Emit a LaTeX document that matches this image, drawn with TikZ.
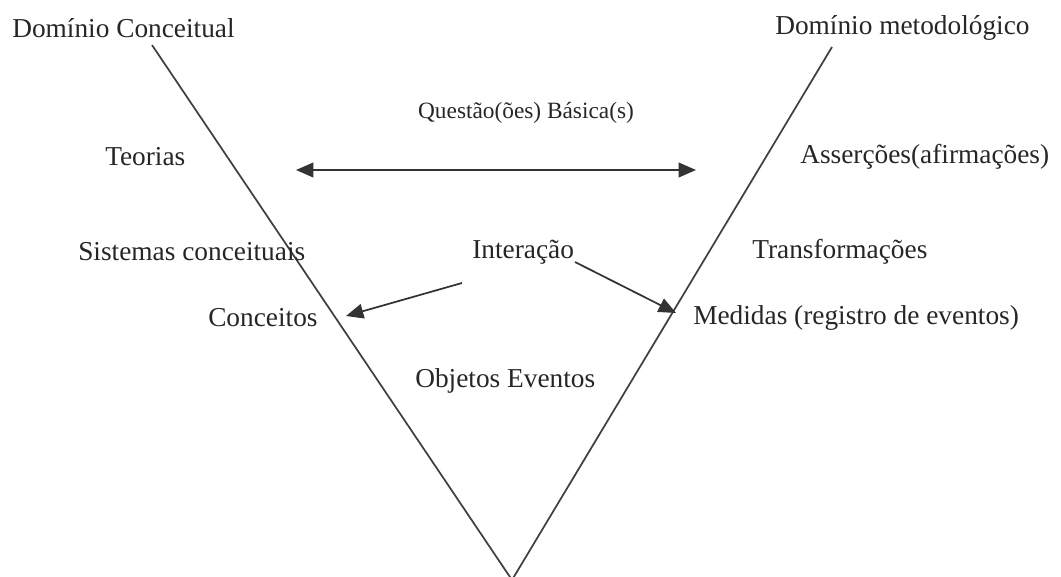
\documentclass[tikz,border=0pt]{standalone}
\usepackage{fontspec}
\setmainfont{Liberation Serif}
\usetikzlibrary{arrows.meta}
\begin{document}
\begin{tikzpicture}[x=0.75pt,y=-0.75pt,
  lbl/.style={anchor=west,inner sep=0pt,font=\fontsize{20.5}{24}\selectfont,text=black!85},
  small/.style={anchor=center,inner sep=0pt,font=\fontsize{17.5}{21}\selectfont,text=black!85},
  vline/.style={line width=1.3pt,draw=black!75},
  tip/.tip={Triangle[length=13pt,width=11pt]},
  arr/.style={line width=1.3pt,draw=black!80,-tip},
  darr/.style={line width=1.3pt,draw=black!80,tip-tip}]
\useasboundingbox (0,0) rectangle (1061,577);
\coordinate (tl) at (152,45);
\coordinate (tr) at (832,47);
\coordinate (apex) at (512,580);
\draw[vline] (tl) -- (apex) -- (tr);
\node[lbl] (dc) at (12,28) {Domínio Conceitual};
\node[lbl] (dm) at (775,28) {Domínio metodológico};
\node[small] (q) at (526,113) {Questão(ões) Básica(s)};
\node[lbl] (teo) at (105,157) {Teorias};
\node[lbl] (ass) at (800,157) {Asserções(afirmações)};
\coordinate (al) at (296,170);
\coordinate (ar) at (696,170);
\draw[darr] (al) -- (ar);
\node[lbl] (sis) at (78,252) {Sistemas conceituais};
\node[lbl] (int) at (472,252) {Interação};
\node[lbl] (tra) at (752,252) {Transformações};
\node[lbl] (con) at (208,318) {Conceitos};
\node[lbl] (med) at (693,318) {Medidas (registro de eventos)};
\node[lbl] (obj) at (415,381) {Objetos Eventos};
\coordinate (s1) at (462,283);
\coordinate (s2) at (575,262);
\draw[arr] (s1) -- (346,316);
\draw[arr] (s2) -- (676,313);
\end{tikzpicture}
\end{document}
